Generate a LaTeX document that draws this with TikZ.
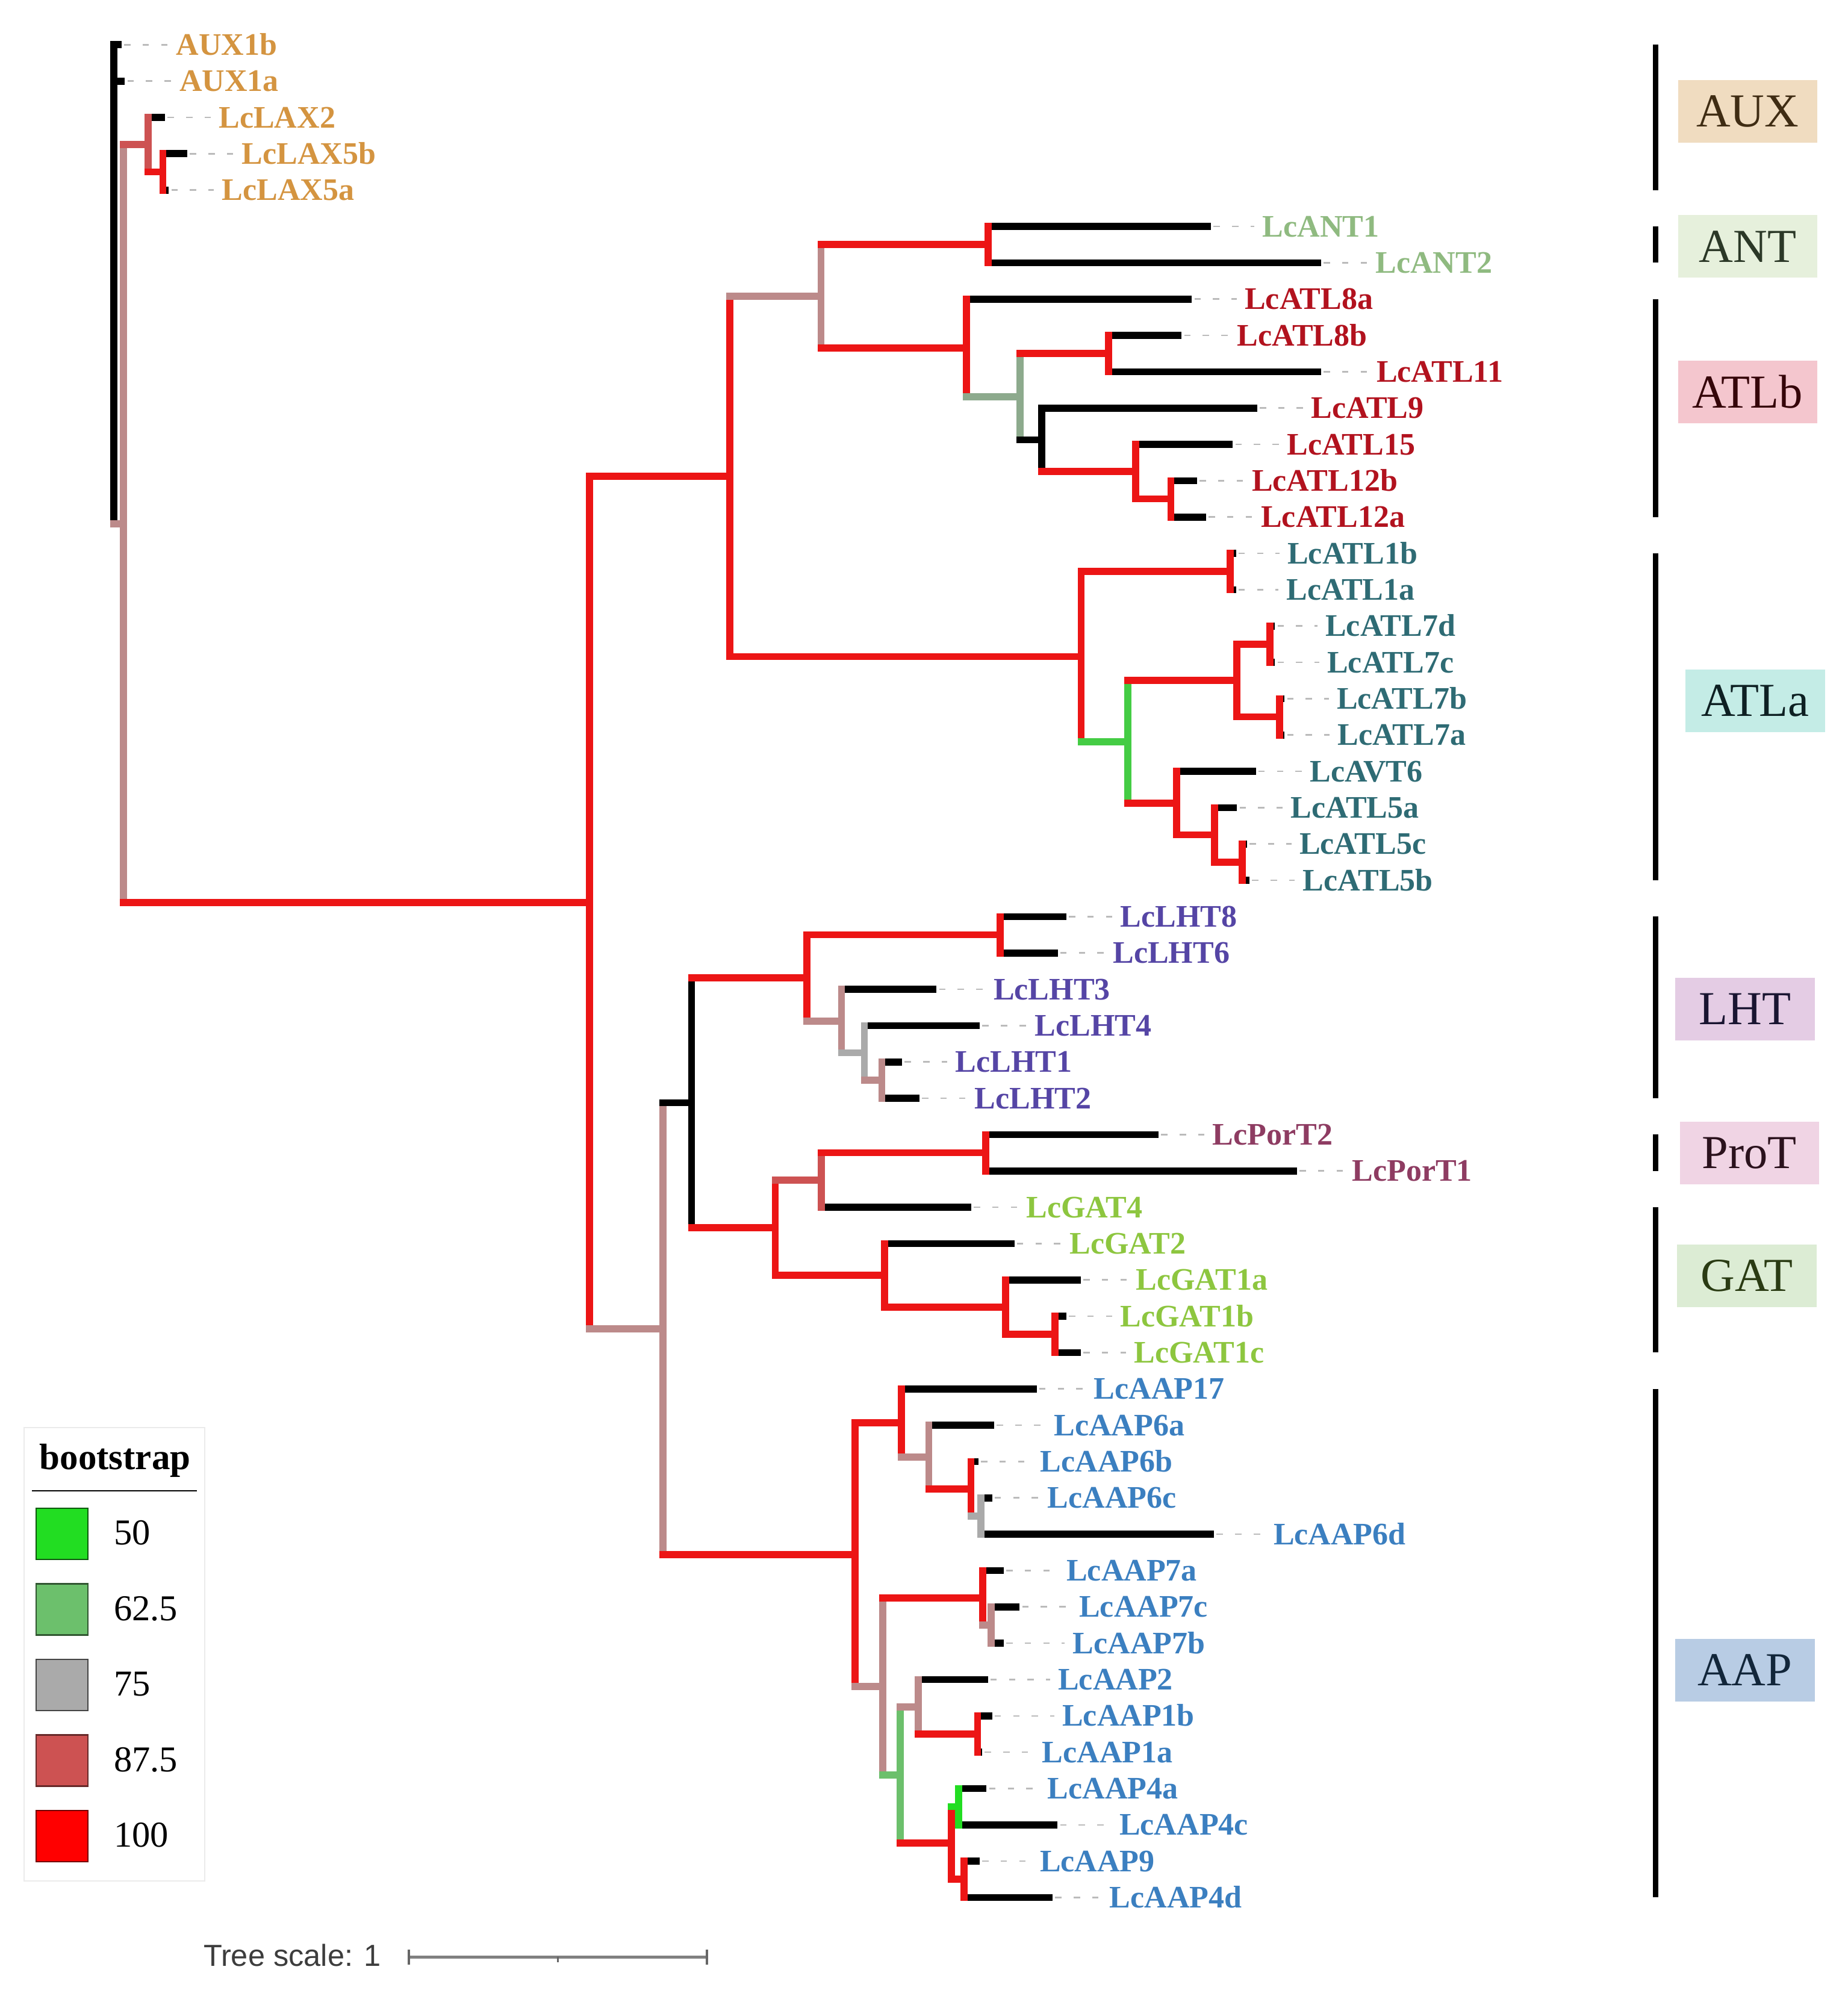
\documentclass[tikz,border=0pt]{standalone}
\usepackage{fontspec}
\setmainfont{Liberation Serif}
\newfontfamily\sansfam{Liberation Sans}

% bootstrap colours of the branches
\definecolor{bs100}{HTML}{EC1515}
\definecolor{bs875}{HTML}{CD5252}
\definecolor{bsrosy}{HTML}{BC8A8A}
\definecolor{bs75}{HTML}{AAAAAA}
\definecolor{bsgg}{HTML}{8DAA8D}
\definecolor{bs62}{HTML}{6CC06C}
\definecolor{bs50}{HTML}{22DD22}
\definecolor{bs50b}{HTML}{44CC44}
% label colours of the families
\definecolor{caux}{HTML}{D49440}
\definecolor{cant}{HTML}{8FBA80}
\definecolor{catlb}{HTML}{B2121E}
\definecolor{catla}{HTML}{2E6B74}
\definecolor{clht}{HTML}{5545A5}
\definecolor{cprot}{HTML}{8E3C62}
\definecolor{cgat}{HTML}{8DC63F}
\definecolor{caap}{HTML}{3B7FC0}
% boxes of the family names
\definecolor{baux}{HTML}{F0DCC0}
\definecolor{bant}{HTML}{E6F0DC}
\definecolor{batlb}{HTML}{F4C6CE}
\definecolor{batla}{HTML}{C4ECE6}
\definecolor{blht}{HTML}{E4CCE4}
\definecolor{bprot}{HTML}{F0D4E4}
\definecolor{bgat}{HTML}{DCECD4}
\definecolor{baap}{HTML}{B8CCE4}
\definecolor{cguide}{HTML}{BBBBBB}

\tikzset{
  br/.style={line width=2.75pt, line cap=rect},
  s100/.style={br, draw=bs100},
  s875/.style={br, draw=bs875},
  srosy/.style={br, draw=bsrosy},
  s75/.style={br, draw=bs75},
  sgg/.style={br, draw=bsgg},
  s62/.style={br, draw=bs62},
  s50/.style={br, draw=bs50},
  s50b/.style={br, draw=bs50b},
  s0/.style={br, draw=black},
  tipbr/.style={line width=2.75pt, draw=black},
  guide/.style={draw=cguide, line width=0.6pt, dash pattern=on 2.5pt off 4.75pt, shorten <=1pt, shorten >=3pt},
  lab/.style={anchor=west, inner sep=0pt, text height=8.1pt, text depth=0pt, font=\fontsize{12.25}{14}\selectfont\bfseries},
  grp/.style={minimum width=54.5pt, minimum height=24.5pt, inner sep=0pt, font=\fontsize{18.5}{20}\selectfont},
  gbar/.style={line width=2.2pt, draw=black},
  keybox/.style={minimum width=20.25pt, minimum height=20pt, inner sep=0pt, line width=0.6pt},
  keylab/.style={anchor=base west, inner sep=0pt, font=\fontsize{14.25}{16}\selectfont}
}

\begin{document}
\begin{tikzpicture}[x=0.5pt, y=-0.5pt]
    \fill[white] (0,0) rectangle (1445,1568);
    \useasboundingbox (0,0) rectangle (1445,1568);

    % inner nodes of the tree
    \coordinate (root) at (89,222.25);
    \coordinate (nY) at (96.5,409.5);
    \coordinate (nLAX) at (115.7,113.13);
    \coordinate (nLAX5) at (127.4,134.44);
    \coordinate (nBIG) at (461,705.86);
    \coordinate (nATL) at (570.7,372.6);
    \coordinate (nANTATLb) at (642,231.65);
    \coordinate (nANT) at (772.6,191.26);
    \coordinate (nATLb) at (755.6,272.05);
    \coordinate (nATLb2) at (797.8,310.22);
    \coordinate (nATL811) at (867,276.49);
    \coordinate (nATL9) at (814.6,343.96);
    \coordinate (nATL15) at (888,368.82);
    \coordinate (nATL12) at (915.6,390.13);
    \coordinate (nATLa) at (845.5,513.54);
    \coordinate (nATL1) at (962,446.95);
    \coordinate (nATLa2) at (882,580.12);
    \coordinate (nATL7) at (967.3,532.18);
    \coordinate (nATL7dc) at (993,503.77);
    \coordinate (nATL7ba) at (1000.5,560.59);
    \coordinate (nATL6) at (920,628.06);
    \coordinate (nATL5) at (949.6,652.92);
    \coordinate (nATL5cb) at (971.5,674.23);
    \coordinate (nAMINO) at (518.4,1039.12);
    \coordinate (nLPG) at (540.8,862.45);
    \coordinate (nLHT) at (631,764.79);
    \coordinate (nLHT86) at (782,731.05);
    \coordinate (nLHT3) at (658,798.52);
    \coordinate (nLHT4) at (676,823.38);
    \coordinate (nLHT12) at (689.6,844.69);
    \coordinate (nPG) at (606.2,960.1);
    \coordinate (nProG4) at (642.2,922.82);
    \coordinate (nProT) at (770.7,901.51);
    \coordinate (nGAT) at (691.8,997.39);
    \coordinate (nGAT1) at (786.5,1022.25);
    \coordinate (nGAT1bc) at (824.8,1043.56);
    \coordinate (nAAP) at (668.5,1215.79);
    \coordinate (nAAP17) at (705,1112.8);
    \coordinate (nAAP6) at (726.3,1139.44);
    \coordinate (nAAP6b) at (759.3,1164.3);
    \coordinate (nAAP6cd) at (767,1185.6);
    \coordinate (nAAP7g) at (690.3,1318.78);
    \coordinate (nAAP7) at (768.4,1249.53);
    \coordinate (nAAP7cb) at (775,1270.84);
    \coordinate (nAAP124) at (704,1388.03);
    \coordinate (nAAP2) at (718,1334.76);
    \coordinate (nAAP1) at (764.5,1356.07);
    \coordinate (nAAP4) at (744,1441.3);
    \coordinate (nAAP4ac) at (749.5,1412.89);
    \coordinate (nAAP94) at (753.8,1469.71);

    % leaves
    \coordinate (AUX1b) at (95,35.00); \node[lab, text=caux] (AUX1b-lab) at (137.4,35.00) {AUX1b};
    \draw[tipbr] (root |- AUX1b) -- (AUX1b); \draw[guide] (AUX1b) -- (AUX1b-lab);
    \coordinate (AUX1a) at (97.6,63.41); \node[lab, text=caux] (AUX1a-lab) at (140,63.41) {AUX1a};
    \draw[tipbr] (root |- AUX1a) -- (AUX1a); \draw[guide] (AUX1a) -- (AUX1a-lab);
    \coordinate (LcLAX2) at (129,91.82); \node[lab, text=caux] (LcLAX2-lab) at (170.7,91.82) {LcLAX2};
    \draw[tipbr] (nLAX |- LcLAX2) -- (LcLAX2); \draw[guide] (LcLAX2) -- (LcLAX2-lab);
    \coordinate (LcLAX5b) at (146.4,120.23); \node[lab, text=caux] (LcLAX5b-lab) at (188.8,120.23) {LcLAX5b};
    \draw[tipbr] (nLAX5 |- LcLAX5b) -- (LcLAX5b); \draw[guide] (LcLAX5b) -- (LcLAX5b-lab);
    \coordinate (LcLAX5a) at (132,148.64); \node[lab, text=caux] (LcLAX5a-lab) at (173.3,148.64) {LcLAX5a};
    \draw[tipbr] (nLAX5 |- LcLAX5a) -- (LcLAX5a); \draw[guide] (LcLAX5a) -- (LcLAX5a-lab);

    \coordinate (LcANT1) at (947,177.05); \node[lab, text=cant] (LcANT1-lab) at (987,177.05) {LcANT1};
    \draw[tipbr] (nANT |- LcANT1) -- (LcANT1); \draw[guide] (LcANT1) -- (LcANT1-lab);
    \coordinate (LcANT2) at (1033,205.46); \node[lab, text=cant] (LcANT2-lab) at (1075.3,205.46) {LcANT2};
    \draw[tipbr] (nANT |- LcANT2) -- (LcANT2); \draw[guide] (LcANT2) -- (LcANT2-lab);

    \coordinate (LcATL8a) at (932,233.87); \node[lab, text=catlb] (LcATL8a-lab) at (973,233.87) {LcATL8a};
    \draw[tipbr] (nATLb |- LcATL8a) -- (LcATL8a); \draw[guide] (LcATL8a) -- (LcATL8a-lab);
    \coordinate (LcATL8b) at (924,262.28); \node[lab, text=catlb] (LcATL8b-lab) at (967,262.28) {LcATL8b};
    \draw[tipbr] (nATL811 |- LcATL8b) -- (LcATL8b); \draw[guide] (LcATL8b) -- (LcATL8b-lab);
    \coordinate (LcATL11) at (1033,290.69); \node[lab, text=catlb] (LcATL11-lab) at (1076,290.69) {LcATL11};
    \draw[tipbr] (nATL811 |- LcATL11) -- (LcATL11); \draw[guide] (LcATL11) -- (LcATL11-lab);
    \coordinate (LcATL9) at (983,319.10); \node[lab, text=catlb] (LcATL9-lab) at (1025,319.10) {LcATL9};
    \draw[tipbr] (nATL9 |- LcATL9) -- (LcATL9); \draw[guide] (LcATL9) -- (LcATL9-lab);
    \coordinate (LcATL15) at (964,347.51); \node[lab, text=catlb] (LcATL15-lab) at (1006,347.51) {LcATL15};
    \draw[tipbr] (nATL15 |- LcATL15) -- (LcATL15); \draw[guide] (LcATL15) -- (LcATL15-lab);
    \coordinate (LcATL12b) at (936,375.92); \node[lab, text=catlb] (LcATL12b-lab) at (978.6,375.92) {LcATL12b};
    \draw[tipbr] (nATL12 |- LcATL12b) -- (LcATL12b); \draw[guide] (LcATL12b) -- (LcATL12b-lab);
    \coordinate (LcATL12a) at (943,404.33); \node[lab, text=catlb] (LcATL12a-lab) at (985.7,404.33) {LcATL12a};
    \draw[tipbr] (nATL12 |- LcATL12a) -- (LcATL12a); \draw[guide] (LcATL12a) -- (LcATL12a-lab);

    \coordinate (LcATL1b) at (966.5,432.74); \node[lab, text=catla] (LcATL1b-lab) at (1006.4,432.74) {LcATL1b};
    \draw[tipbr] (nATL1 |- LcATL1b) -- (LcATL1b); \draw[guide] (LcATL1b) -- (LcATL1b-lab);
    \coordinate (LcATL1a) at (966.5,461.15); \node[lab, text=catla] (LcATL1a-lab) at (1005.6,461.15) {LcATL1a};
    \draw[tipbr] (nATL1 |- LcATL1a) -- (LcATL1a); \draw[guide] (LcATL1a) -- (LcATL1a-lab);
    \coordinate (LcATL7d) at (997,489.56); \node[lab, text=catla] (LcATL7d-lab) at (1036.1,489.56) {LcATL7d};
    \draw[tipbr] (nATL7dc |- LcATL7d) -- (LcATL7d); \draw[guide] (LcATL7d) -- (LcATL7d-lab);
    \coordinate (LcATL7c) at (997,517.97); \node[lab, text=catla] (LcATL7c-lab) at (1037.5,517.97) {LcATL7c};
    \draw[tipbr] (nATL7dc |- LcATL7c) -- (LcATL7c); \draw[guide] (LcATL7c) -- (LcATL7c-lab);
    \coordinate (LcATL7b) at (1004.5,546.38); \node[lab, text=catla] (LcATL7b-lab) at (1045,546.38) {LcATL7b};
    \draw[tipbr] (nATL7ba |- LcATL7b) -- (LcATL7b); \draw[guide] (LcATL7b) -- (LcATL7b-lab);
    \coordinate (LcATL7a) at (1004.5,574.79); \node[lab, text=catla] (LcATL7a-lab) at (1045.6,574.79) {LcATL7a};
    \draw[tipbr] (nATL7ba |- LcATL7a) -- (LcATL7a); \draw[guide] (LcATL7a) -- (LcATL7a-lab);
    \coordinate (LcAVT6) at (982,603.20); \node[lab, text=catla] (LcAVT6-lab) at (1024,603.20) {LcAVT6};
    \draw[tipbr] (nATL6 |- LcAVT6) -- (LcAVT6); \draw[guide] (LcAVT6) -- (LcAVT6-lab);
    \coordinate (LcATL5a) at (967.3,631.61); \node[lab, text=catla] (LcATL5a-lab) at (1009,631.61) {LcATL5a};
    \draw[tipbr] (nATL5 |- LcATL5a) -- (LcATL5a); \draw[guide] (LcATL5a) -- (LcATL5a-lab);
    \coordinate (LcATL5c) at (975,660.02); \node[lab, text=catla] (LcATL5c-lab) at (1015.8,660.02) {LcATL5c};
    \draw[tipbr] (nATL5cb |- LcATL5c) -- (LcATL5c); \draw[guide] (LcATL5c) -- (LcATL5c-lab);
    \coordinate (LcATL5b) at (977,688.43); \node[lab, text=catla] (LcATL5b-lab) at (1018.5,688.43) {LcATL5b};
    \draw[tipbr] (nATL5cb |- LcATL5b) -- (LcATL5b); \draw[guide] (LcATL5b) -- (LcATL5b-lab);

    \coordinate (LcLHT8) at (833.8,716.84); \node[lab, text=clht] (LcLHT8-lab) at (875.7,716.84) {LcLHT8};
    \draw[tipbr] (nLHT86 |- LcLHT8) -- (LcLHT8); \draw[guide] (LcLHT8) -- (LcLHT8-lab);
    \coordinate (LcLHT6) at (827.1,745.25); \node[lab, text=clht] (LcLHT6-lab) at (869.9,745.25) {LcLHT6};
    \draw[tipbr] (nLHT86 |- LcLHT6) -- (LcLHT6); \draw[guide] (LcLHT6) -- (LcLHT6-lab);
    \coordinate (LcLHT3) at (732.4,773.66); \node[lab, text=clht] (LcLHT3-lab) at (776.6,773.66) {LcLHT3};
    \draw[tipbr] (nLHT3 |- LcLHT3) -- (LcLHT3); \draw[guide] (LcLHT3) -- (LcLHT3-lab);
    \coordinate (LcLHT4) at (766.2,802.07); \node[lab, text=clht] (LcLHT4-lab) at (809,802.07) {LcLHT4};
    \draw[tipbr] (nLHT4 |- LcLHT4) -- (LcLHT4); \draw[guide] (LcLHT4) -- (LcLHT4-lab);
    \coordinate (LcLHT1) at (705.4,830.48); \node[lab, text=clht] (LcLHT1-lab) at (746.8,830.48) {LcLHT1};
    \draw[tipbr] (nLHT12 |- LcLHT1) -- (LcLHT1); \draw[guide] (LcLHT1) -- (LcLHT1-lab);
    \coordinate (LcLHT2) at (718.9,858.89); \node[lab, text=clht] (LcLHT2-lab) at (761.7,858.89) {LcLHT2};
    \draw[tipbr] (nLHT12 |- LcLHT2) -- (LcLHT2); \draw[guide] (LcLHT2) -- (LcLHT2-lab);

    \coordinate (LcPorT2) at (905.9,887.30); \node[lab, text=cprot] (LcPorT2-lab) at (947.8,887.30) {LcPorT2};
    \draw[tipbr] (nProT |- LcPorT2) -- (LcPorT2); \draw[guide] (LcPorT2) -- (LcPorT2-lab);
    \coordinate (LcPorT1) at (1014.1,915.71); \node[lab, text=cprot] (LcPorT1-lab) at (1056.9,915.71) {LcPorT1};
    \draw[tipbr] (nProT |- LcPorT1) -- (LcPorT1); \draw[guide] (LcPorT1) -- (LcPorT1-lab);

    \coordinate (LcGAT4) at (759.4,944.12); \node[lab, text=cgat] (LcGAT4-lab) at (802.2,944.12) {LcGAT4};
    \draw[tipbr] (nProG4 |- LcGAT4) -- (LcGAT4); \draw[guide] (LcGAT4) -- (LcGAT4-lab);
    \coordinate (LcGAT2) at (793.2,972.53); \node[lab, text=cgat] (LcGAT2-lab) at (836,972.53) {LcGAT2};
    \draw[tipbr] (nGAT |- LcGAT2) -- (LcGAT2); \draw[guide] (LcGAT2) -- (LcGAT2-lab);
    \coordinate (LcGAT1a) at (845.1,1000.94); \node[lab, text=cgat] (LcGAT1a-lab) at (887.9,1000.94) {LcGAT1a};
    \draw[tipbr] (nGAT1 |- LcGAT1a) -- (LcGAT1a); \draw[guide] (LcGAT1a) -- (LcGAT1a-lab);
    \coordinate (LcGAT1b) at (833.8,1029.35); \node[lab, text=cgat] (LcGAT1b-lab) at (875.7,1029.35) {LcGAT1b};
    \draw[tipbr] (nGAT1bc |- LcGAT1b) -- (LcGAT1b); \draw[guide] (LcGAT1b) -- (LcGAT1b-lab);
    \coordinate (LcGAT1c) at (845.1,1057.76); \node[lab, text=cgat] (LcGAT1c-lab) at (886.5,1057.76) {LcGAT1c};
    \draw[tipbr] (nGAT1bc |- LcGAT1c) -- (LcGAT1c); \draw[guide] (LcGAT1c) -- (LcGAT1c-lab);

    \coordinate (LcAAP17) at (810.6,1086.17); \node[lab, text=caap] (LcAAP17-lab) at (855.1,1086.17) {LcAAP17};
    \draw[tipbr] (nAAP17 |- LcAAP17) -- (LcAAP17); \draw[guide] (LcAAP17) -- (LcAAP17-lab);
    \coordinate (LcAAP6a) at (777.5,1114.58); \node[lab, text=caap] (LcAAP6a-lab) at (823.8,1114.58) {LcAAP6a};
    \draw[tipbr] (nAAP6 |- LcAAP6a) -- (LcAAP6a); \draw[guide] (LcAAP6a) -- (LcAAP6a-lab);
    \coordinate (LcAAP6b) at (765,1142.99); \node[lab, text=caap] (LcAAP6b-lab) at (813.2,1142.99) {LcAAP6b};
    \draw[tipbr] (nAAP6b |- LcAAP6b) -- (LcAAP6b); \draw[guide] (LcAAP6b) -- (LcAAP6b-lab);
    \coordinate (LcAAP6c) at (775.8,1171.40); \node[lab, text=caap] (LcAAP6c-lab) at (818.8,1171.40) {LcAAP6c};
    \draw[tipbr] (nAAP6cd |- LcAAP6c) -- (LcAAP6c); \draw[guide] (LcAAP6c) -- (LcAAP6c-lab);
    \coordinate (LcAAP6d) at (949.3,1199.81); \node[lab, text=caap] (LcAAP6d-lab) at (995.5,1199.81) {LcAAP6d};
    \draw[tipbr] (nAAP6cd |- LcAAP6d) -- (LcAAP6d); \draw[guide] (LcAAP6d) -- (LcAAP6d-lab);
    \coordinate (LcAAP7a) at (784.8,1228.22); \node[lab, text=caap] (LcAAP7a-lab) at (833.6,1228.22) {LcAAP7a};
    \draw[tipbr] (nAAP7 |- LcAAP7a) -- (LcAAP7a); \draw[guide] (LcAAP7a) -- (LcAAP7a-lab);
    \coordinate (LcAAP7c) at (797.3,1256.63); \node[lab, text=caap] (LcAAP7c-lab) at (843.5,1256.63) {LcAAP7c};
    \draw[tipbr] (nAAP7cb |- LcAAP7c) -- (LcAAP7c); \draw[guide] (LcAAP7c) -- (LcAAP7c-lab);
    \coordinate (LcAAP7b) at (784.8,1285.04); \node[lab, text=caap] (LcAAP7b-lab) at (838.6,1285.04) {LcAAP7b};
    \draw[tipbr] (nAAP7cb |- LcAAP7b) -- (LcAAP7b); \draw[guide] (LcAAP7b) -- (LcAAP7b-lab);
    \coordinate (LcAAP2) at (772.5,1313.45); \node[lab, text=caap] (LcAAP2-lab) at (827,1313.45) {LcAAP2};
    \draw[tipbr] (nAAP2 |- LcAAP2) -- (LcAAP2); \draw[guide] (LcAAP2) -- (LcAAP2-lab);
    \coordinate (LcAAP1b) at (775.8,1341.86); \node[lab, text=caap] (LcAAP1b-lab) at (830.3,1341.86) {LcAAP1b};
    \draw[tipbr] (nAAP1 |- LcAAP1b) -- (LcAAP1b); \draw[guide] (LcAAP1b) -- (LcAAP1b-lab);
    \coordinate (LcAAP1a) at (768,1370.27); \node[lab, text=caap] (LcAAP1a-lab) at (814.5,1370.27) {LcAAP1a};
    \draw[tipbr] (nAAP1 |- LcAAP1a) -- (LcAAP1a); \draw[guide] (LcAAP1a) -- (LcAAP1a-lab);
    \coordinate (LcAAP4a) at (771.5,1398.68); \node[lab, text=caap] (LcAAP4a-lab) at (818.8,1398.68) {LcAAP4a};
    \draw[tipbr] (nAAP4ac |- LcAAP4a) -- (LcAAP4a); \draw[guide] (LcAAP4a) -- (LcAAP4a-lab);
    \coordinate (LcAAP4c) at (827,1427.09); \node[lab, text=caap] (LcAAP4c-lab) at (875,1427.09) {LcAAP4c};
    \draw[tipbr] (nAAP4ac |- LcAAP4c) -- (LcAAP4c); \draw[guide] (LcAAP4c) -- (LcAAP4c-lab);
    \coordinate (LcAAP9) at (766,1455.50); \node[lab, text=caap] (LcAAP9-lab) at (812.8,1455.50) {LcAAP9};
    \draw[tipbr] (nAAP94 |- LcAAP9) -- (LcAAP9); \draw[guide] (LcAAP9) -- (LcAAP9-lab);
    \coordinate (LcAAP4d) at (823,1483.91); \node[lab, text=caap] (LcAAP4d-lab) at (867.4,1483.91) {LcAAP4d};
    \draw[tipbr] (nAAP94 |- LcAAP4d) -- (LcAAP4d); \draw[guide] (LcAAP4d) -- (LcAAP4d-lab);

    % branches of the inner nodes
    \draw[s0] (root |- AUX1b) -- (root |- nY);
    \draw[srosy] (root |- nY) -- (nY) (nY |- nLAX) -- (nY |- nBIG);
    \draw[s875] (nY |- nLAX) -- (nLAX) (nLAX |- LcLAX2) -- (nLAX |- nLAX5);
    \draw[s100] (nLAX |- nLAX5) -- (nLAX5) (nLAX5 |- LcLAX5b) -- (nLAX5 |- LcLAX5a);
    \draw[s100] (nY |- nBIG) -- (nBIG) (nBIG |- nATL) -- (nBIG |- nAMINO);
    \draw[s100] (nBIG |- nATL) -- (nATL) (nATL |- nANTATLb) -- (nATL |- nATLa);
    \draw[srosy] (nATL |- nANTATLb) -- (nANTATLb) (nANTATLb |- nANT) -- (nANTATLb |- nATLb);
    \draw[s100] (nANTATLb |- nANT) -- (nANT) (nANT |- LcANT1) -- (nANT |- LcANT2);
    \draw[s100] (nANTATLb |- nATLb) -- (nATLb) (nATLb |- LcATL8a) -- (nATLb |- nATLb2);
    \draw[sgg] (nATLb |- nATLb2) -- (nATLb2) (nATLb2 |- nATL811) -- (nATLb2 |- nATL9);
    \draw[s100] (nATLb2 |- nATL811) -- (nATL811) (nATL811 |- LcATL8b) -- (nATL811 |- LcATL11);
    \draw[s0] (nATLb2 |- nATL9) -- (nATL9) (nATL9 |- LcATL9) -- (nATL9 |- nATL15);
    \draw[s100] (nATL9 |- nATL15) -- (nATL15) (nATL15 |- LcATL15) -- (nATL15 |- nATL12);
    \draw[s100] (nATL15 |- nATL12) -- (nATL12) (nATL12 |- LcATL12b) -- (nATL12 |- LcATL12a);
    \draw[s100] (nATL |- nATLa) -- (nATLa) (nATLa |- nATL1) -- (nATLa |- nATLa2);
    \draw[s100] (nATLa |- nATL1) -- (nATL1) (nATL1 |- LcATL1b) -- (nATL1 |- LcATL1a);
    \draw[s50b] (nATLa |- nATLa2) -- (nATLa2) (nATLa2 |- nATL7) -- (nATLa2 |- nATL6);
    \draw[s100] (nATLa2 |- nATL7) -- (nATL7) (nATL7 |- nATL7dc) -- (nATL7 |- nATL7ba);
    \draw[s100] (nATL7 |- nATL7dc) -- (nATL7dc) (nATL7dc |- LcATL7d) -- (nATL7dc |- LcATL7c);
    \draw[s100] (nATL7 |- nATL7ba) -- (nATL7ba) (nATL7ba |- LcATL7b) -- (nATL7ba |- LcATL7a);
    \draw[s100] (nATLa2 |- nATL6) -- (nATL6) (nATL6 |- LcAVT6) -- (nATL6 |- nATL5);
    \draw[s100] (nATL6 |- nATL5) -- (nATL5) (nATL5 |- LcATL5a) -- (nATL5 |- nATL5cb);
    \draw[s100] (nATL5 |- nATL5cb) -- (nATL5cb) (nATL5cb |- LcATL5c) -- (nATL5cb |- LcATL5b);
    \draw[srosy] (nBIG |- nAMINO) -- (nAMINO) (nAMINO |- nLPG) -- (nAMINO |- nAAP);
    \draw[s0] (nAMINO |- nLPG) -- (nLPG) (nLPG |- nLHT) -- (nLPG |- nPG);
    \draw[s100] (nLPG |- nLHT) -- (nLHT) (nLHT |- nLHT86) -- (nLHT |- nLHT3);
    \draw[s100] (nLHT |- nLHT86) -- (nLHT86) (nLHT86 |- LcLHT8) -- (nLHT86 |- LcLHT6);
    \draw[srosy] (nLHT |- nLHT3) -- (nLHT3) (nLHT3 |- LcLHT3) -- (nLHT3 |- nLHT4);
    \draw[s75] (nLHT3 |- nLHT4) -- (nLHT4) (nLHT4 |- LcLHT4) -- (nLHT4 |- nLHT12);
    \draw[srosy] (nLHT4 |- nLHT12) -- (nLHT12) (nLHT12 |- LcLHT1) -- (nLHT12 |- LcLHT2);
    \draw[s100] (nLPG |- nPG) -- (nPG) (nPG |- nProG4) -- (nPG |- nGAT);
    \draw[s875] (nPG |- nProG4) -- (nProG4) (nProG4 |- nProT) -- (nProG4 |- LcGAT4);
    \draw[s100] (nProG4 |- nProT) -- (nProT) (nProT |- LcPorT2) -- (nProT |- LcPorT1);
    \draw[s100] (nPG |- nGAT) -- (nGAT) (nGAT |- LcGAT2) -- (nGAT |- nGAT1);
    \draw[s100] (nGAT |- nGAT1) -- (nGAT1) (nGAT1 |- LcGAT1a) -- (nGAT1 |- nGAT1bc);
    \draw[s100] (nGAT1 |- nGAT1bc) -- (nGAT1bc) (nGAT1bc |- LcGAT1b) -- (nGAT1bc |- LcGAT1c);
    \draw[s100] (nAMINO |- nAAP) -- (nAAP) (nAAP |- nAAP17) -- (nAAP |- nAAP7g);
    \draw[s100] (nAAP |- nAAP17) -- (nAAP17) (nAAP17 |- LcAAP17) -- (nAAP17 |- nAAP6);
    \draw[srosy] (nAAP17 |- nAAP6) -- (nAAP6) (nAAP6 |- LcAAP6a) -- (nAAP6 |- nAAP6b);
    \draw[s100] (nAAP6 |- nAAP6b) -- (nAAP6b) (nAAP6b |- LcAAP6b) -- (nAAP6b |- nAAP6cd);
    \draw[s75] (nAAP6b |- nAAP6cd) -- (nAAP6cd) (nAAP6cd |- LcAAP6c) -- (nAAP6cd |- LcAAP6d);
    \draw[srosy] (nAAP |- nAAP7g) -- (nAAP7g) (nAAP7g |- nAAP7) -- (nAAP7g |- nAAP124);
    \draw[s100] (nAAP7g |- nAAP7) -- (nAAP7) (nAAP7 |- LcAAP7a) -- (nAAP7 |- nAAP7cb);
    \draw[srosy] (nAAP7 |- nAAP7cb) -- (nAAP7cb) (nAAP7cb |- LcAAP7c) -- (nAAP7cb |- LcAAP7b);
    \draw[s62] (nAAP7g |- nAAP124) -- (nAAP124) (nAAP124 |- nAAP2) -- (nAAP124 |- nAAP4);
    \draw[srosy] (nAAP124 |- nAAP2) -- (nAAP2) (nAAP2 |- LcAAP2) -- (nAAP2 |- nAAP1);
    \draw[s100] (nAAP2 |- nAAP1) -- (nAAP1) (nAAP1 |- LcAAP1b) -- (nAAP1 |- LcAAP1a);
    \draw[s100] (nAAP124 |- nAAP4) -- (nAAP4) (nAAP4 |- nAAP4ac) -- (nAAP4 |- nAAP94);
    \draw[s50] (nAAP4 |- nAAP4ac) -- (nAAP4ac) (nAAP4ac |- LcAAP4a) -- (nAAP4ac |- LcAAP4c);
    \draw[s100] (nAAP4 |- nAAP94) -- (nAAP94) (nAAP94 |- LcAAP9) -- (nAAP94 |- LcAAP4d);

    % family bars and names
    \coordinate (gbx) at (1294.5,0);
    \draw[gbar] (gbx |- AUX1b) -- (gbx |- LcLAX5a);
    \draw[gbar] (gbx |- LcANT1) -- (gbx |- LcANT2);
    \draw[gbar] (gbx |- LcATL8a) -- (gbx |- LcATL12a);
    \draw[gbar] (gbx |- LcATL1b) -- (gbx |- LcATL5b);
    \draw[gbar] (gbx |- LcLHT8) -- (gbx |- LcLHT2);
    \draw[gbar] (gbx |- LcPorT2) -- (gbx |- LcPorT1);
    \draw[gbar] (gbx |- LcGAT4) -- (gbx |- LcGAT1c);
    \draw[gbar] (gbx |- LcAAP17) -- (gbx |- LcAAP4d);
    \node[grp, fill=baux, text=caux!30!black] (AUX) at (1366.6,87.1) {AUX};
    \node[grp, fill=bant, text=cant!30!black] (ANT) at (1366.6,192.7) {ANT};
    \node[grp, fill=batlb, text=catlb!30!black] (ATLb) at (1366.6,306.5) {ATLb};
    \node[grp, fill=batla, text=catla!30!black] (ATLa) at (1372.5,548) {ATLa};
    \node[grp, fill=blht, text=clht!30!black] (LHT) at (1364.5,789) {LHT};
    \node[grp, fill=bprot, text=cprot!30!black] (ProT) at (1368,901.7) {ProT};
    \node[grp, fill=bgat, text=cgat!30!black] (GAT) at (1366,997.6) {GAT};
    \node[grp, fill=baap, text=caap!30!black] (AAP) at (1364.5,1306) {AAP};

    % legend
    \draw[draw=black!8, line width=0.5pt] (18.8,1116.6) rectangle (160,1471);
    \node[anchor=base west, inner sep=0pt, font=\fontsize{14.35}{16}\selectfont\bfseries] (leg-title) at (30.6,1149) {bootstrap};
    \draw[line width=0.6pt] (25,1165.8) -- (154,1165.8);
    \node[keybox, fill=bs50!100!green, draw=bs50!40!black] (key50) at (48.55,1199.5) {};
    \node[keybox, fill=bs62, draw=bs62!45!black] (key62) at (48.55,1258.6) {};
    \node[keybox, fill=bs75, draw=bs75!40!black] (key75) at (48.55,1317.7) {};
    \node[keybox, fill=bs875, draw=bs875!50!black] (key87) at (48.55,1376.8) {};
    \node[keybox, fill=red, draw=red!45!black] (key100) at (48.55,1435.9) {};
    \node[keylab] (key50-lab) at (88.7,1208.1) {50};
    \node[keylab] (key62-lab) at (88.7,1267.2) {62.5};
    \node[keylab] (key75-lab) at (88.7,1326.3) {75};
    \node[keylab] (key87-lab) at (88.7,1385.4) {87.5};
    \node[keylab] (key100-lab) at (88.7,1444.5) {100};

    % tree scale
    \node[anchor=base west, inner sep=0pt, text=black!76, font=\sansfam\fontsize{11.9}{13}\selectfont] (scale-lab) at (158.8,1537.5) {Tree scale: 1};
    \coordinate (sb-l) at (319.8,1530.4);
    \coordinate (sb-m) at (436.3,1530.4);
    \coordinate (sb-r) at (552.8,1530.4);
    \draw[draw=black!50, line width=1.2pt] (sb-l) -- (sb-r);
    \draw[draw=black!60, line width=0.8pt] ([yshift=2.95pt]sb-l) -- ([yshift=-2.95pt]sb-l);
    \draw[draw=black!60, line width=0.8pt] ([yshift=2.95pt]sb-r) -- ([yshift=-2.95pt]sb-r);
    \draw[draw=black!60, line width=0.6pt] (sb-m) -- ([yshift=-2.1pt]sb-m);
\end{tikzpicture}
\end{document}
